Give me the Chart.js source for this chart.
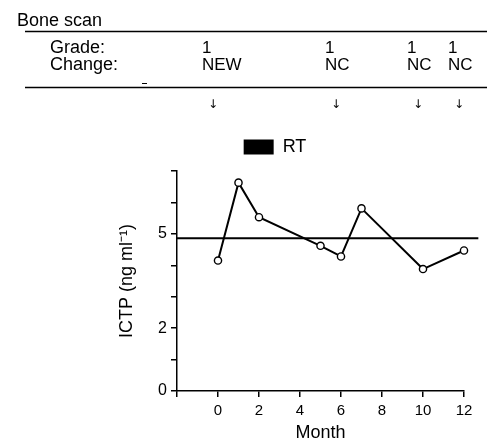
<!DOCTYPE html>
<html><head><meta charset="utf-8">
<script src="https://cdn.jsdelivr.net/npm/chart.js@4/dist/chart.umd.min.js"></script>
<style>html,body{margin:0;padding:0;background:#fff;}canvas{display:block;}</style>
</head><body>
<canvas id="c" width="487" height="444"></canvas>
<script>
// ---- data ----
const months = [0, 1, 2, 5, 6, 7, 10, 12];
const ictp = [4.15, 6.63, 5.53, 4.62, 4.28, 5.81, 3.88, 4.47];
const refMonths = [-2, 12.7];
const refLevel = [4.86, 4.86];
const yLabeled = [0, 2, 5];
const hiddenXTick = -2;
const scanMonths = [0, 6, 10, 12];
const scanGrades = ['1', '1', '1', '1'];
const scanChanges = ['NEW', 'NC', 'NC', 'NC'];
const legendLabel = 'RT';

const FAM = '"Liberation Sans", Arial, Helvetica, sans-serif';
Chart.defaults.font.family = FAM;
Chart.defaults.color = '#000';

const headerPlugin = {
  id: 'header',
  afterLayout(chart) {
    const lg = chart.legend;
    if (lg) { lg.left -= 13; lg.right -= 13; lg.top -= 5; lg.bottom -= 5; }
  },
  afterDraw(chart) {
    const ctx = chart.ctx;
    const xs = chart.scales.x;
    ctx.save();
    ctx.fillStyle = '#000';
    ctx.strokeStyle = '#000';
    ctx.textBaseline = 'alphabetic';
    ctx.textAlign = 'left';
    ctx.font = '18px ' + FAM;
    ctx.fillText('Bone scan', 17, 26);
    ctx.lineWidth = 1.5;
    ctx.beginPath();
    ctx.moveTo(25, 31.5); ctx.lineTo(487, 31.5);
    ctx.moveTo(25, 87.5); ctx.lineTo(487, 87.5);
    ctx.stroke();
    ctx.lineWidth = 1;
    ctx.beginPath(); ctx.moveTo(142, 83.5); ctx.lineTo(147, 83.5); ctx.stroke();
    ctx.font = '18px ' + FAM;
    ctx.fillText('Grade:', 50, 53);
    ctx.fillText('Change:', 50, 70);
    scanMonths.forEach((m, i) => {
      const px = xs.getPixelForValue(m);
      ctx.textAlign = 'left';
      ctx.font = '17px ' + FAM;
      ctx.fillText(scanGrades[i], px - 16, 53);
      ctx.fillText(scanChanges[i], px - 16, 70);
      ctx.textAlign = 'center';
      ctx.font = '12px "DejaVu Sans", ' + FAM;
      ctx.fillText('\u2193', px - 5, 108);
    });
    ctx.restore();
  }
};

new Chart(document.getElementById('c'), {
  type: 'scatter',
  data: {
    datasets: [
      {
        label: 'ICTP',
        data: months.map((m, i) => ({ x: m, y: ictp[i] })),
        showLine: true,
        borderColor: '#000',
        borderWidth: 2,
        pointRadius: 3.6,
        pointBackgroundColor: '#fff',
        pointBorderColor: '#000',
        pointBorderWidth: 1.4,
        tension: 0,
        clip: false
      },
      {
        label: 'reference',
        data: refMonths.map((m, i) => ({ x: m, y: refLevel[i] })),
        showLine: true,
        borderColor: '#000',
        borderWidth: 1.8,
        pointRadius: 0,
        clip: false
      }
    ]
  },
  options: {
    responsive: false,
    animation: false,
    events: [],
    layout: { padding: { top: 133, left: 112, right: 23, bottom: 0 } },
    plugins: {
      tooltip: { enabled: false },
      legend: {
        display: true,
        position: 'top',
        labels: {
          boxWidth: 30,
          boxHeight: 15,
          font: { size: 18 },
          color: '#000',
          generateLabels: () => [{ text: legendLabel, fillStyle: '#000', strokeStyle: '#000', lineWidth: 0, hidden: false, datasetIndex: 1 }]
        }
      }
    },
    scales: {
      x: {
        type: 'linear',
        min: -2, max: 12,
        ticks: { stepSize: 2, font: { size: 15 }, color: '#000', padding: 5,
          callback: v => (v === hiddenXTick ? '' : String(v)) },
        grid: { drawOnChartArea: false, drawTicks: true, tickLength: 6, color: '#000', lineWidth: 1.5 },
        border: { display: true, color: '#000', width: 1.5 },
        title: { display: true, text: 'Month', font: { size: 18 }, color: '#000', padding: { top: 0, bottom: 0 } },
        afterFit: s => { s.height = 53; }
      },
      y: {
        min: 0, max: 7,
        ticks: { stepSize: 1, font: { size: 16 }, color: '#000', padding: 4,
          callback: v => (yLabeled.includes(v) ? String(v) : '') },
        grid: { drawOnChartArea: false, drawTicks: true, tickLength: 6, color: '#000', lineWidth: 1.5 },
        border: { display: true, color: '#000', width: 1.5 },
        title: { display: true, text: 'ICTP (ng ml\u207B\u00B9)', font: { size: 18 }, color: '#000', padding: { top: 4, bottom: 4 } },
        afterFit: s => { s.width = 65; }
      }
    }
  },
  plugins: [headerPlugin]
});
</script>
</body></html>
